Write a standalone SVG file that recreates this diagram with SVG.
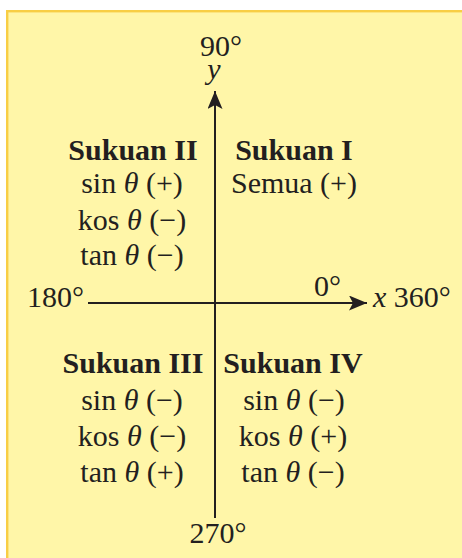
<svg xmlns="http://www.w3.org/2000/svg" width="462" height="558" viewBox="0 0 462 558">
<style>
text{font-family:"Liberation Serif","Times New Roman",serif;font-size:30px;fill:#231F20}
.b{font-weight:bold}
.m{text-anchor:middle}
.i{font-style:italic}
.ax{stroke:#231F20;stroke-width:2;fill:none}
</style>
<defs>
<marker id="ah" markerUnits="userSpaceOnUse" markerWidth="19" markerHeight="15" refX="18" refY="7.5" orient="auto">
<path d="M0,0 L18,7.5 L0,15 L4,7.5 Z" fill="#231F20"/>
</marker>
</defs>
<rect x="7.2" y="11.2" width="470" height="560" fill="#FFF6A8" stroke="#F8CE45" stroke-width="2.4"/>
<g id="connectors">
<line class="ax" x1="215" y1="518" x2="215" y2="91" marker-end="url(#ah)"/>
<line class="ax" x1="88" y1="303" x2="367" y2="303" marker-end="url(#ah)"/>
</g>
<g id="label-90">
<text class="m"><tspan x="221" y="56">90°</tspan><tspan class="i" x="214" y="79">y</tspan></text>
</g>
<g id="label-180"><text x="27" y="307">180°</text></g>
<g id="label-0"><text x="314" y="296">0°</text></g>
<g id="label-360"><text x="373" y="307"><tspan class="i">x</tspan> 360°</text></g>
<g id="label-270"><text class="m" x="218" y="543">270°</text></g>
<g id="sukuan-2">
<text class="b m" x="133" y="160">Sukuan II</text>
<text class="m" x="132" y="193">sin <tspan class="i">θ</tspan> (+)</text>
<text class="m" x="132" y="230">kos <tspan class="i">θ</tspan> (−)</text>
<text class="m" x="132" y="265">tan <tspan class="i">θ</tspan> (−)</text>
</g>
<g id="sukuan-1">
<text class="b m" x="294" y="160">Sukuan I</text>
<text class="m" x="294" y="193">Semua (+)</text>
</g>
<g id="sukuan-3">
<text class="b m" x="133" y="373">Sukuan III</text>
<text class="m" x="132" y="410">sin <tspan class="i">θ</tspan> (−)</text>
<text class="m" x="132" y="446">kos <tspan class="i">θ</tspan> (−)</text>
<text class="m" x="132" y="482">tan <tspan class="i">θ</tspan> (+)</text>
</g>
<g id="sukuan-4">
<text class="b m" x="293" y="373">Sukuan IV</text>
<text class="m" x="294" y="410">sin <tspan class="i">θ</tspan> (−)</text>
<text class="m" x="293" y="446">kos <tspan class="i">θ</tspan> (+)</text>
<text class="m" x="293" y="482">tan <tspan class="i">θ</tspan> (−)</text>
</g>
</svg>
